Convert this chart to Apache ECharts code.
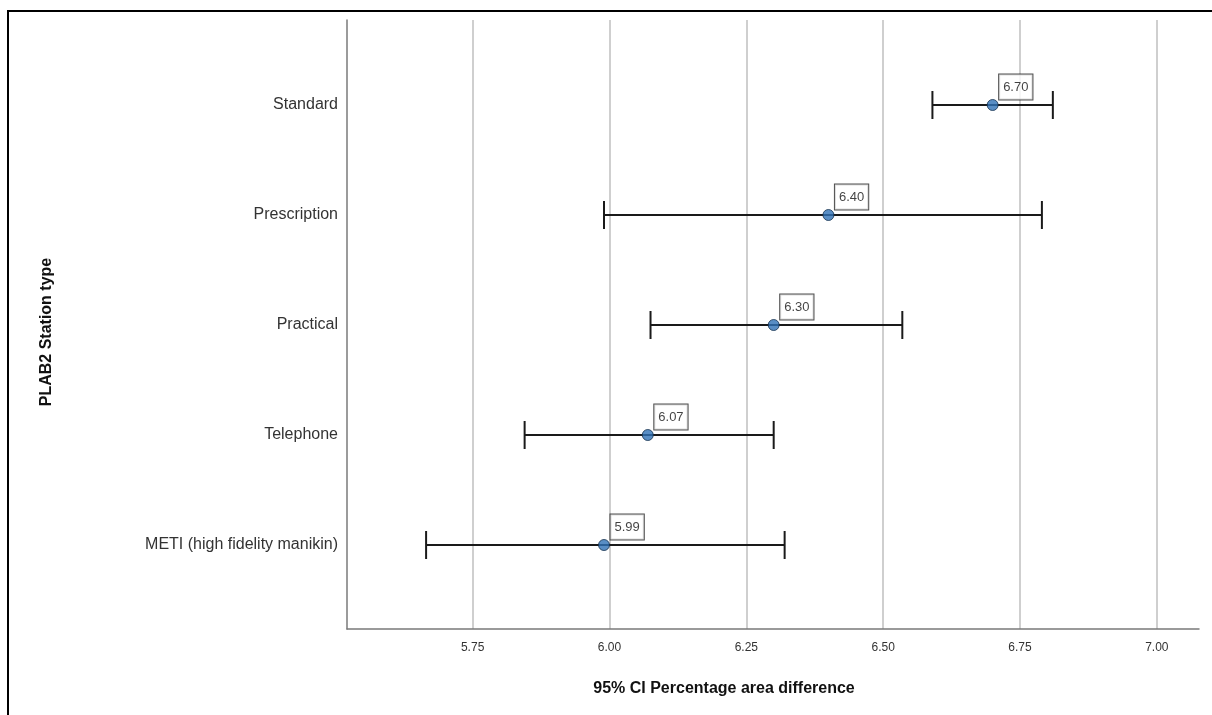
<!DOCTYPE html>
<html>
<head>
<meta charset="utf-8">
<script src="https://cdn.jsdelivr.net/npm/echarts@6/dist/echarts.min.js"></script>
<style>
  html, body { margin: 0; padding: 0; background: #fff; }
  #chart { width: 1212px; height: 715px; }
</style>
</head>
<body>
<div id="chart"></div>
<script>
// Station types, top to bottom
const categories = ['Standard', 'Prescription', 'Practical', 'Telephone', 'METI (high fidelity manikin)'];
// Mean percentage area difference per station type
const means = [6.70, 6.40, 6.30, 6.07, 5.99];
// 95% confidence interval bounds
const lower = [6.59, 5.99, 6.075, 5.845, 5.665];
const upper = [6.81, 6.79, 6.535, 6.30, 6.32];
// X axis tick labels
const xTicks = [5.75, 6.00, 6.25, 6.50, 6.75, 7.00];

const font = '"Liberation Sans", Arial, sans-serif';

const chart = echarts.init(document.getElementById('chart'), null, { renderer: 'canvas' });

const ciData = categories.map((c, i) => [i, lower[i], upper[i]]);
const pointData = categories.map((c, i) => [means[i], i]);

chart.setOption({
  animation: false,
  backgroundColor: '#ffffff',
  grid: { left: 347, top: 20, right: 13, bottom: 86, containLabel: false },
  xAxis: {
    type: 'value',
    min: 5.5205,
    max: 7.077,
    axisLine: { onZero: false, lineStyle: { color: '#7a7a7a', width: 1.5 } },
    axisTick: { show: false, customValues: xTicks },
    axisLabel: {
      customValues: xTicks,
      formatter: v => v.toFixed(2),
      color: '#333333',
      fontSize: 12,
      fontFamily: font,
      margin: 13
    },
    splitLine: { show: true, lineStyle: { color: '#cfcfcf', width: 2 } }
  },
  yAxis: {
    type: 'value',
    inverse: true,
    min: -0.7727,
    max: 4.7636,
    axisLine: { show: true, onZero: false, lineStyle: { color: '#7a7a7a', width: 1.5 } },
    axisTick: { show: false, customValues: [0, 1, 2, 3, 4] },
    splitLine: { show: false },
    axisLabel: {
      customValues: [0, 1, 2, 3, 4],
      formatter: v => categories[Math.round(v)] || '',
      color: '#333333',
      fontSize: 16,
      fontFamily: font,
      margin: 9
    }
  },
  graphic: [
    {
      type: 'rect',
      shape: { x: 8, y: 11, width: 1400, height: 900 },
      style: { fill: 'none', stroke: '#000000', lineWidth: 2 },
      silent: true
    },
    {
      type: 'text',
      x: 724,
      y: 689,
      style: {
        text: '95% CI Percentage area difference',
        font: 'bold 16px ' + font,
        fill: '#111111',
        align: 'center',
        verticalAlign: 'middle'
      }
    },
    {
      type: 'text',
      x: 47,
      y: 332,
      rotation: Math.PI / 2,
      style: {
        text: 'PLAB2 Station type',
        font: 'bold 16px ' + font,
        fill: '#111111',
        align: 'center',
        verticalAlign: 'middle'
      }
    }
  ],
  series: [
    {
      // confidence interval whiskers with end caps
      type: 'custom',
      data: ciData,
      encode: { x: [1, 2], y: 0 },
      renderItem: (params, api) => {
        const row = api.value(0);
        const lo = api.coord([api.value(1), row]);
        const hi = api.coord([api.value(2), row]);
        const capH = 14;
        const style = { stroke: '#1a1a1a', lineWidth: 2 };
        return {
          type: 'group',
          children: [
            { type: 'line', shape: { x1: lo[0], y1: lo[1], x2: hi[0], y2: hi[1] }, style },
            { type: 'line', shape: { x1: lo[0], y1: lo[1] - capH, x2: lo[0], y2: lo[1] + capH }, style },
            { type: 'line', shape: { x1: hi[0], y1: hi[1] - capH, x2: hi[0], y2: hi[1] + capH }, style }
          ]
        };
      },
      z: 3
    },
    {
      // means with boxed value labels
      type: 'scatter',
      data: pointData,
      symbol: 'circle',
      symbolSize: 11,
      itemStyle: { color: '#2f72b6', borderColor: '#17324f', borderWidth: 1 },
      label: {
        show: true,
        position: [12.5, -24.5],
        formatter: p => p.value[0].toFixed(2),
        color: '#111111',
        fontSize: 13,
        fontFamily: font,
        backgroundColor: '#ffffff',
        borderColor: '#222222',
        borderWidth: 1,
        padding: [6, 4, 5, 4],
        lineHeight: 14
      },
      z: 5
    }
  ]
});
</script>
</body>
</html>
